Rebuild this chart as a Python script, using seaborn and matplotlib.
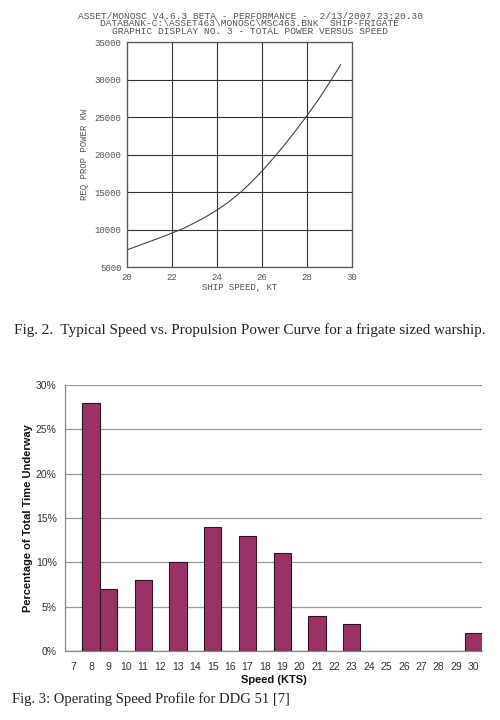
import matplotlib
matplotlib.use("Agg")
import matplotlib.pyplot as plt
import seaborn as sns
import pandas as pd
from matplotlib.ticker import FuncFormatter, FixedLocator

# Fig. 2 - speed vs required propulsion power
speed_kt = [20, 20.5, 21, 21.5, 22, 22.5, 23, 23.5, 24, 24.5, 25, 25.5,
            26, 26.5, 27, 27.5, 28, 28.5, 29, 29.5]
power_kw = [7300, 7850, 8400, 8950, 9550, 10150, 10900, 11700, 12600, 13650, 14850, 16250,
            17800, 19500, 21300, 23200, 25200, 27300, 29600, 32000]

# Fig. 3 - operating speed profile
speed_cats = [str(s) for s in range(7, 31)]
pct_time = [0, 28, 7, 0, 8, 0, 10, 0, 14, 0, 13, 0, 11, 0, 4, 0, 3, 0, 0, 0, 0, 0, 0, 2]

title_lines = [
    "ASSET/MONOSC V4.6.3 BETA - PERFORMANCE -  2/13/2007 23:20.30",
    "DATABANK-C:\\ASSET463\\MONOSC\\MSC463.BNK  SHIP-FRIGATE",
    "GRAPHIC DISPLAY NO. 3 - TOTAL POWER VERSUS SPEED",
]

sns.set_style("white")
mono = "Liberation Mono"
serif = "Liberation Serif"
sans = "Liberation Sans"
plt.rcParams["font.family"] = [sans, "DejaVu Sans"]

fig = plt.figure(figsize=(5, 7.2), dpi=100)

# ---------- top chart ----------
ax1 = fig.add_axes([0.254, 0.629, 0.45, 0.3125])
sns.lineplot(x=speed_kt, y=power_kw, ax=ax1, color="#444444", linewidth=0.8)
ax1.set_xlim(20, 30)
ax1.set_ylim(5000, 35000)
ax1.set_xticks(range(20, 31, 2))
ax1.set_yticks(range(5000, 35001, 5000))
ax1.grid(True, color="#333333", linewidth=0.8)
for sp in ax1.spines.values():
    sp.set_color("#555555")
    sp.set_linewidth(0.9)
ax1.tick_params(axis="both", length=2, width=0.6, color="#555555", pad=2,
                labelsize=6.5, labelcolor="#555555")
for lab in ax1.get_xticklabels() + ax1.get_yticklabels():
    lab.set_fontfamily(mono)
ax1.set_xlabel("SHIP SPEED, KT", fontsize=6.5, family=mono, color="#555555", labelpad=1)
ax1.set_ylabel("REQ PROP POWER KW", fontsize=6.5, family=mono, color="#555555", labelpad=4)

fig.text(0.5, 1 - 24 / 720, "\n".join(title_lines), ha="center", va="center",
         multialignment="center", linespacing=0.72,
         fontsize=6.8, family=mono, color="#555555")

fig.text(0.5, 1 - 330 / 720,
         "Fig. 2.  Typical Speed vs. Propulsion Power Curve for a frigate sized warship.",
         ha="center", va="center", fontsize=10.9, family=serif, color="#222222")

# ---------- bottom chart ----------
df = pd.DataFrame({"speed": speed_cats, "pct": pct_time})
ax2 = fig.add_axes([0.13, 0.0958, 0.834, 0.3695])
sns.barplot(data=df, x="speed", y="pct", order=speed_cats, ax=ax2,
            color="#993366", saturation=1, width=1.0,
            edgecolor="#2e1422", linewidth=0.8, zorder=3)
ax2.set_xlim(-0.5, len(speed_cats) - 0.5)
ax2.set_ylim(0, 30)
ax2.set_yticks(range(0, 31, 5))
ax2.yaxis.set_major_formatter(FuncFormatter(lambda v, p: f"{int(v)}%"))
ax2.yaxis.grid(True, color="#999999", linewidth=0.9, zorder=0)
ax2.xaxis.grid(False)
ax2.set_axisbelow(True)
for side in ["top", "right"]:
    ax2.spines[side].set_visible(False)
for side in ["left", "bottom"]:
    ax2.spines[side].set_color("#888888")
    ax2.spines[side].set_linewidth(0.9)
ax2.tick_params(axis="x", length=0, pad=8, labelsize=7.5, labelcolor="#333333")
ax2.tick_params(axis="y", length=3, width=0.8, color="#888888", pad=3,
                labelsize=7.5, labelcolor="#333333")
ax2.xaxis.set_minor_locator(FixedLocator([4.5, 9.5, 14.5, 19.5]))
ax2.tick_params(axis="x", which="minor", length=3, width=0.8, color="#888888")
ax2.set_xlabel("Speed (KTS)", fontsize=8, fontweight="bold", color="#111111", labelpad=2)
ax2.set_ylabel("Percentage of Total Time Underway", fontsize=8, fontweight="bold",
               color="#111111", labelpad=2)

fig.text(0.024, 1 - 699 / 720, "Fig. 3: Operating Speed Profile for DDG 51 [7]",
         ha="left", va="center", fontsize=10.5, family=serif, color="#222222")

fig.savefig("out.png", dpi=100, facecolor="white")
